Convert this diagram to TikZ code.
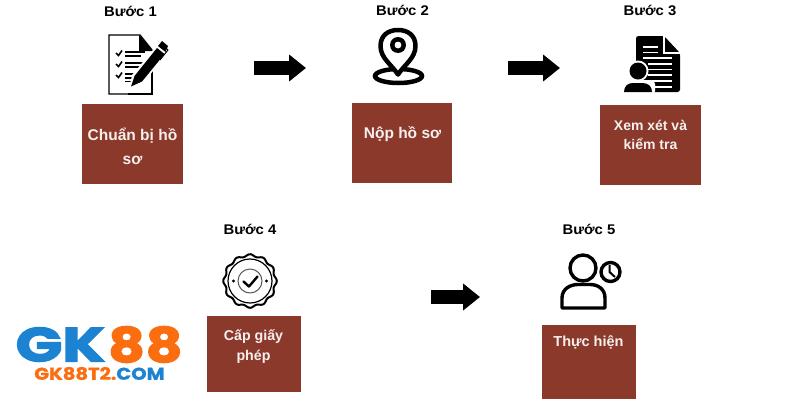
\documentclass[tikz,border=0pt]{standalone}
\usepackage{fontspec}
\setmainfont{Liberation Sans}
\newfontfamily\logofont[BoldFeatures={FakeBold=2.5}]{Poppins}
\newfontfamily\logofontsm[BoldFeatures={FakeBold=1}]{Poppins}
\usetikzlibrary{arrows.meta,shapes.geometric,calc}
\definecolor{boxred}{HTML}{8A392B}
\definecolor{logoblue}{HTML}{1C82D2}
\definecolor{logoorange}{HTML}{FA6E10}
\tikzset{
  stepbox/.style={draw=none,fill=boxred,minimum width=#1,inner sep=0pt,outer sep=0pt},
  steptitle/.style={font=\bfseries\fontsize{14}{15}\selectfont,text=black,inner sep=0pt,xscale=1.06},
  boxtext/.style 2 args={font=\bfseries\fontsize{#1}{#2}\selectfont,text=white!92!boxred,align=center,inner sep=0pt},
  blockarrow/.style={line width=14.5pt,-{Triangle[length=17pt,width=26pt]},black,shorten >=0pt},
  logotext/.style={font=\logofont\bfseries\fontsize{48}{50}\selectfont,inner sep=0pt},
  logosmall/.style={font=\logofontsm\bfseries\fontsize{19}{20}\selectfont,inner sep=0pt,xscale=1.03,yscale=0.9},
}
\begin{document}
\begin{tikzpicture}[x=1pt,y=-1pt]
\useasboundingbox (0,0) rectangle (800,400);
\fill[white] (0,0) rectangle (800,400);

% boxes
\node[stepbox=101pt,minimum height=80pt,anchor=north west] (box1) at (82,104) {};
\node[stepbox=100pt,minimum height=80pt,anchor=north west] (box2) at (352,103) {};
\node[stepbox=100.5pt,minimum height=80pt,anchor=north west] (box3) at (600,105) {};
\node[stepbox=94pt,minimum height=76pt,anchor=north west] (box4) at (207,316) {};
\node[stepbox=94pt,minimum height=74pt,anchor=north west] (box5) at (542,325) {};

% box text
\node[boxtext={15.5}{24}] (t1) at (132.5,146) {Chuẩn bị hồ\\sơ};
\node[boxtext={15.5}{18}] (t2) at (402.5,134.5) {Nộp hồ sơ};
\node[boxtext={14}{19}] (t3) at (650.5,135) {Xem xét và\\kiểm tra};
\node[boxtext={14.2}{20}] (t4) at (253.5,347) {Cấp giấy\\phép};
\node[boxtext={14.5}{18}] (t5) at (588.5,342) {Thực hiện};

% titles
\node[steptitle] (s1) at (130.5,11) {Bước 1};
\node[steptitle] (s2) at (402.5,10.5) {Bước 2};
\node[steptitle] (s3) at (650,10.5) {Bước 3};
\node[steptitle] (s4) at (250,229.5) {Bước 4};
\node[steptitle] (s5) at (589,229.5) {Bước 5};

% arrows
\coordinate (a1s) at (254,68); \coordinate (a1e) at (306,68);
\coordinate (a2s) at (508,68); \coordinate (a2e) at (560,68);
\coordinate (a3s) at (431,297); \coordinate (a3e) at (480,297);
\draw[blockarrow] (a1s) -- (a1e);
\draw[blockarrow] (a2s) -- (a2e);
\draw[blockarrow] (a3s) -- (a3e);

% icon 1: checklist and pen
\draw[line width=1.4pt,line join=miter] (134,94) -- (109,94) -- (109,35) -- (140,35) -- (152,50);
\draw[line width=1.4pt] (152,66) -- (152,94) -- (128,94);
\fill (139,35) -- (153,51) -- (139,51) -- cycle;
\foreach \yy in {53,64,75}{
  \draw[line width=1.6pt] (116,\yy) -- (118.5,\yy+2.5) -- (122,\yy-2.5);
  \draw[line width=1.5pt] (125,\yy-1) -- (145,\yy-1);
  \draw[line width=1.5pt] (125,\yy+3) -- (141,\yy+3);
}
\draw[line width=1.5pt] (125,81.5) -- (135,81.5);
\fill[white] (129,90) -- (132,75) -- (158,44) -- (168,52) -- (142,85) -- cycle;
\fill (131,86.5) -- (134.5,76) -- (157,48) -- (164.5,54) -- (142,81.5) -- cycle;
\fill (158,46) -- (162,41) -- (168,46) -- (165.5,52) -- cycle;
\draw[line width=1pt] (165,47) -- (168,50) -- (160,60);

% icon 2: map pin
\draw[line width=4.5pt] (398.5,76) ellipse[x radius=23.5,y radius=7];
\draw[line width=4.5pt,line join=round,fill=white]
  (398,74.5) .. controls (391,64) and (380.5,58) .. (380.5,46) .. controls (380.5,35.5) and (388,30) .. (398,30)
  .. controls (408,30) and (415.5,35.5) .. (415.5,46) .. controls (415.5,58) and (405,64) .. (398,74.5) -- cycle;
\draw[line width=4.5pt] (398,45) circle[radius=5.7];

% icon 3: document with person
\fill[rounded corners=2.5pt] (636,36) -- (664,36) -- (680,53) -- (680,92) -- (636,92) -- cycle;
\draw[white,line width=1.1pt] (664,36) -- (664,53) -- (680,53);
\foreach \xa/\xb/\yy in {643/658/47,643/658/52.5,643/672/58,648/672/64,648/672/69.5,648/672/75,652/672/81,652/672/87}{
  \draw[white,line width=1.2pt] (\xa,\yy) -- (\xb,\yy);
}
\fill[white] (638,71) circle[radius=10.5];
\fill[white,rounded corners=4pt] (621,80) rectangle (655,95);
\fill (638,71) circle[radius=8.5];
\fill (624,92) .. controls (624,86) and (628,83) .. (633,83) -- (642,83) .. controls (648,83) and (652,86) .. (652,92) -- cycle;

% icon 4: badge
\draw[line width=2pt,fill=white]
  plot[smooth cycle,samples=121,domain=0:357,variable=\t] ({250+(25.7+1.1*cos(12*\t))*cos(\t)},{281+(25.7+1.1*cos(12*\t))*sin(\t)});
\draw[line width=1.2pt] (250,281) circle[radius=22];
\draw[line width=1pt,black!65] (250,281) circle[radius=12];
\draw[line width=2.4pt,line cap=round,line join=round] (243.5,281.5) -- (249,286.5) -- (257.5,276.5);
\fill (233.5,281) circle[radius=1.6];
\fill (266.5,281) circle[radius=1.6];

% icon 5: person with clock
\draw[line width=3.4pt] (583,268) circle[radius=13];
\draw[line width=3.4pt,line join=round] (562,308) -- (562,298) .. controls (562,289) and (570,284.5) .. (578,284.5)
  -- (590,284.5) .. controls (598,284.5) and (605,289) .. (605,298) -- (605,308) -- cycle;
\draw[line width=3.4pt,fill=white] (610.5,272) circle[radius=9.5];
\draw[line width=2pt] (609.5,265) -- (609.5,272) -- (615,277);

% logo
\node[logotext,text=logoblue,xscale=1.28,anchor=east] (lg) at (105.5,344.5) {GK};
\node[logotext,text=logoorange,xscale=1.18,anchor=west] (l8a) at (108,344.5) {8};
\node[logotext,text=logoorange,xscale=1.18,anchor=west] (l8b) at (145.5,344.5) {8};
\node[logosmall,anchor=west] (lsm) at (34,373.5) {\textcolor{logoorange}{GK88T2.}\textcolor{logoblue}{COM}};
\end{tikzpicture}
\end{document}
